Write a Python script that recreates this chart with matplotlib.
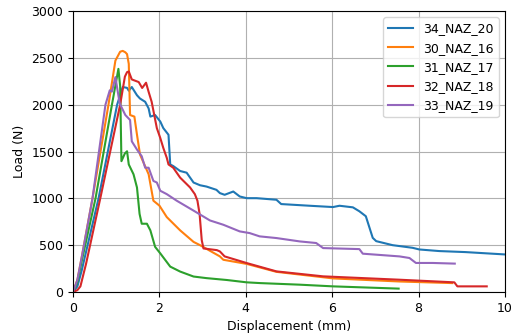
import matplotlib
matplotlib.use("Agg")
import matplotlib.pyplot as plt

labels = ["34_NAZ_20", "30_NAZ_16", "31_NAZ_17", "32_NAZ_18", "33_NAZ_19"]

x34 = [0, 0.1, 0.2, 0.59, 1.02, 1.15, 1.25, 1.29, 1.36, 1.48, 1.55, 1.67, 1.75, 1.79, 1.9, 2.02, 2.09, 2.21, 2.25, 2.32,
       2.48, 2.63, 2.79, 2.94, 3.09, 3.32, 3.4, 3.51, 3.71, 3.86, 4.02, 4.25, 4.71, 4.82, 5.48, 6.02, 6.17, 6.48,
       6.63, 6.78, 6.94, 7.02, 7.4, 7.86, 8.02, 8.48, 9.09, 10.0]
y34 = [0, 60, 230, 1000, 2000, 2189, 2180, 2150, 2189, 2101, 2066, 2031, 1960, 1873, 1890, 1820, 1750, 1679, 1362, 1345,
       1292, 1274, 1169, 1140, 1126, 1091, 1056, 1038, 1073, 1020, 1002, 1002, 985, 939, 921, 907, 921, 904,
       862, 809, 578, 543, 500, 472, 454, 437, 426, 401]

x30 = [0, 0.1, 0.2, 0.45, 0.82, 0.98, 1.09, 1.15, 1.21, 1.25, 1.29, 1.32, 1.42, 1.48, 1.55, 1.75, 1.86, 2.0, 2.17,
       2.48, 2.79, 2.94, 3.4, 3.48, 4.02, 4.71, 6.02, 7.56, 8.78]
y30 = [0, 130, 370, 1000, 2000, 2471, 2566, 2575, 2560, 2540, 2436, 1890, 1873, 1680, 1468, 1257, 975, 922, 800,
       658, 535, 500, 380, 344, 300, 215, 145, 112, 95]

x31 = [0, 0.1, 0.2, 0.52, 0.9, 1.05, 1.09, 1.12, 1.2, 1.25, 1.29, 1.4, 1.48, 1.54, 1.59, 1.71, 1.79, 1.9, 2.02,
       2.25, 2.48, 2.79, 3.09, 3.56, 4.02, 4.33, 5.25, 6.02, 7.54]
y31 = [0, 110, 330, 1000, 2000, 2383, 2200, 1397, 1480, 1503, 1362, 1257, 1116, 834, 729, 729, 658, 482, 412,
       271, 218, 165, 148, 128, 103, 95, 78, 60, 36]

x32 = [0, 0.1, 0.17, 0.3, 0.63, 1.09, 1.2, 1.25, 1.29, 1.36, 1.52, 1.6, 1.69, 1.75, 1.82, 1.94, 2.02, 2.09, 2.17,
       2.21, 2.32, 2.48, 2.71, 2.82, 2.88, 2.93, 2.98, 3.02, 3.33, 3.4, 3.51, 4.02, 4.71, 5.79, 7.56, 8.83, 8.9, 9.58]
y32 = [0, 20, 60, 300, 1000, 2000, 2300, 2348, 2355, 2270, 2242, 2179, 2235, 2137, 2031, 1750, 1644, 1538, 1433,
       1362, 1327, 1221, 1116, 1045, 975, 834, 553, 465, 447, 433, 380, 309, 220, 167, 131, 103, 60, 60]

x33 = [0, 0.1, 0.2, 0.45, 0.75, 0.85, 0.9, 0.98, 1.08, 1.21, 1.32, 1.36, 1.48, 1.59, 1.67, 1.75, 1.86, 1.94, 2.02,
       2.17, 2.4, 2.79, 3.17, 3.48, 3.86, 4.09, 4.32, 4.71, 5.25, 5.63, 5.79, 6.63, 6.71, 7.56, 7.79, 7.94,
       8.33, 8.84]
y33 = [0, 130, 370, 1000, 2000, 2154, 2140, 2295, 2013, 1890, 1837, 1609, 1521, 1450, 1327, 1327, 1186, 1169, 1081,
       1045, 975, 869, 764, 718, 647, 629, 594, 576, 540, 523, 469, 458, 409, 380, 363, 310,
       310, 303]

series_x = [x34, x30, x31, x32, x33]
series_y = [y34, y30, y31, y32, y33]
colors = ["#1f77b4", "#ff7f0e", "#2ca02c", "#d62728", "#9467bd"]

fig = plt.figure(figsize=(5.11, 3.36), dpi=100)
ax = fig.add_axes([0.143, 0.131, 0.845, 0.836])
for xs, ys, lab, c in zip(series_x, series_y, labels, colors):
    ax.plot(xs, ys, color=c, label=lab, lw=1.5)
ax.set_xlim(0, 10)
ax.set_ylim(0, 3000)
ax.set_xlabel("Displacement (mm)", fontsize=9)
ax.set_ylabel("Load (N)", fontsize=9)
ax.tick_params(labelsize=9)
ax.grid(True, color="#b0b0b0", lw=0.8)
ax.legend(loc="upper right", fontsize=9)
fig.savefig("out.png", dpi=100)
